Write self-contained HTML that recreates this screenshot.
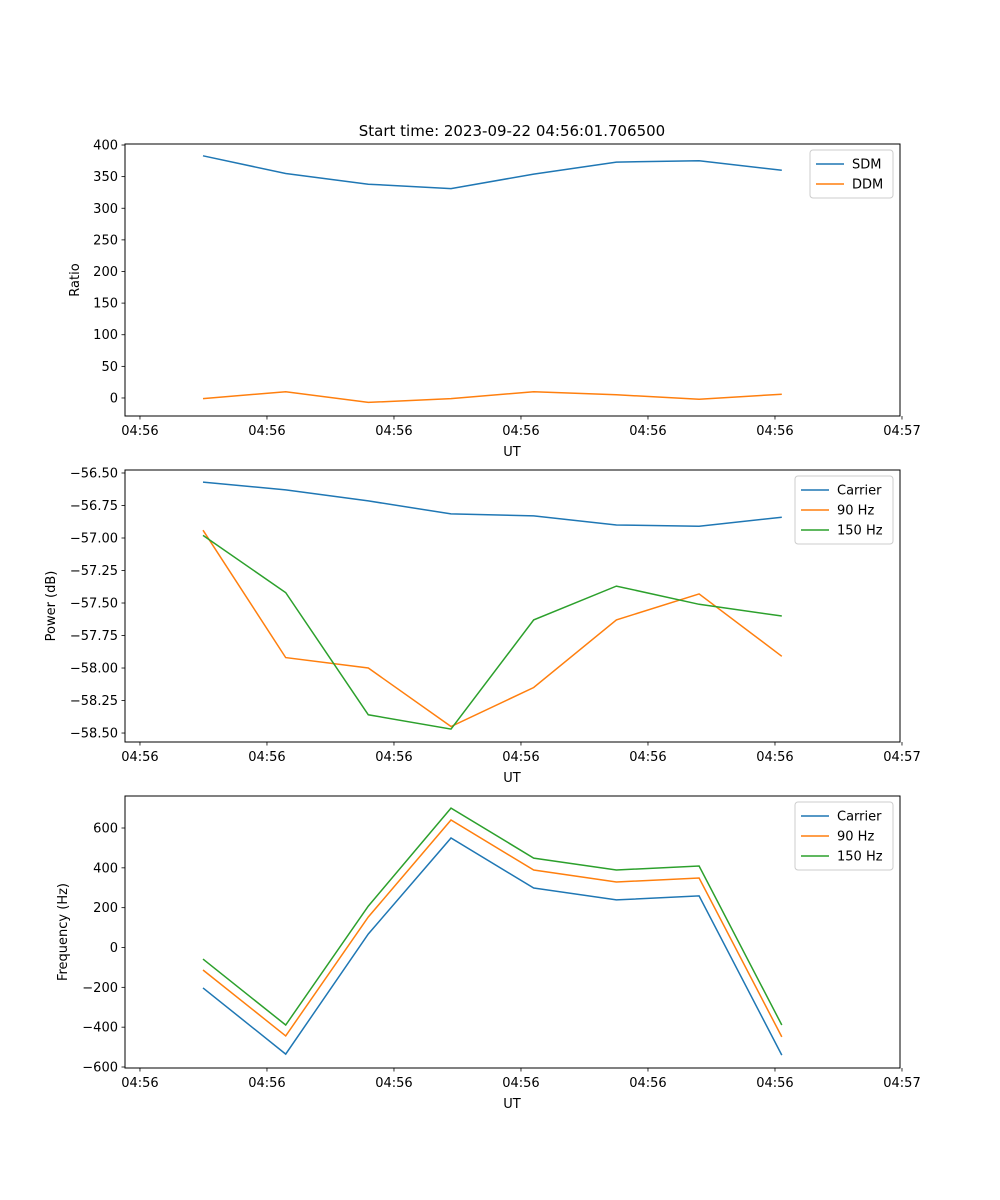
<!DOCTYPE html>
<html><head><meta charset="utf-8">
<style>
body{margin:0;background:#fff;}
svg{display:block;font-family:"DejaVu Sans","Liberation Sans",sans-serif;}
</style></head>
<body>
<svg id="fig" width="1000" height="1200" viewBox="0 0 1000 1200" xmlns="http://www.w3.org/2000/svg">
<rect width="1000" height="1200" fill="#fff"/>
<text x="512" y="136" font-size="15" text-anchor="middle">Start time: 2023-09-22 04:56:01.706500</text>
</svg>
<script>
const xIndex = [0,1,2,3,4,5,6,7];
const xTickLabels = ["04:56","04:56","04:56","04:56","04:56","04:56","04:57"];
const sdm = [383,355,338,331,354,373,375,360];
const ddm = [-1,10,-7,-1,10,5,-2,6];
const powCarrier = [-56.57,-56.63,-56.715,-56.815,-56.83,-56.90,-56.91,-56.84];
const pow90 = [-56.94,-57.92,-58.00,-58.45,-58.15,-57.63,-57.43,-57.91];
const pow150 = [-56.98,-57.42,-58.36,-58.47,-57.63,-57.37,-57.51,-57.60];
const freqCarrier = [-203,-535,68,550,299,239,259,-540];
const freq90 = [-113,-444,153,640,389,329,349,-449];
const freq150 = [-58,-389,208,700,449,389,409,-389];
const ratioTicks = [0,50,100,150,200,250,300,350,400];
const ratioTickLabels = ["0","50","100","150","200","250","300","350","400"];
const powTicks = [-58.5,-58.25,-58,-57.75,-57.5,-57.25,-57,-56.75,-56.5];
const powTickLabels = ["−58.50","−58.25","−58.00","−57.75","−57.50","−57.25","−57.00","−56.75","−56.50"];
const freqTicks = [-600,-400,-200,0,200,400,600];
const freqTickLabels = ["−600","−400","−200","0","200","400","600"];
const ratioRange = [-28.5,401.6];
const powRange = [-58.569,-56.477];
const freqRange = [-605,760.7];

const NS="http://www.w3.org/2000/svg";
const svg=document.getElementById('fig');
const colors=["#1f77b4","#ff7f0e","#2ca02c"];
const L=125,R=900;
const xlim=[-0.943,8.43];
function xs(v){return L+(v-xlim[0])/(xlim[1]-xlim[0])*(R-L);}
const xTickPos=[]; for(let i=0;i<7;i++) xTickPos.push(-0.762+1.536*i);
function mk(tag,attrs,parent){const e=document.createElementNS(NS,tag);for(const k in attrs)e.setAttribute(k,attrs[k]);(parent||svg).appendChild(e);return e;}

function panel(name,top,bottom,yr,ticks,tickLabels,ylabel,series,labels,legendW,ylabelX){
  const g=mk('g',{});
  
  
  const ys=v=>bottom-(v-yr[0])/(yr[1]-yr[0])*(bottom-top);
  series.forEach((s,si)=>{
    const p=mk('polyline',{points:s.map((v,i)=>xs(xIndex[i]).toFixed(1)+','+ys(v).toFixed(1)).join(' '),fill:'none',stroke:colors[si],'stroke-width':1.5},g);
    
    
  });
  const fr=mk('rect',{x:L,y:top,width:R-L,height:bottom-top,fill:'none',stroke:'#000','stroke-width':1},g);
  
  
  ticks.forEach((t,i)=>{
    const y=ys(t);
    mk('line',{x1:L-3.5,x2:L,y1:y,y2:y,stroke:'#000','stroke-width':0.8},g);
    const tx=mk('text',{x:L-7,y:y+4.5,'font-size':13,'text-anchor':'end'},g);
    tx.textContent=tickLabels[i];
    
    
  });
  xTickPos.forEach((t,i)=>{
    const x=xs(t);
    mk('line',{x1:x,x2:x,y1:bottom,y2:bottom+3.5,stroke:'#000','stroke-width':0.8},g);
    const tx=mk('text',{x:x,y:bottom+19,'font-size':13,'text-anchor':'middle'},g);
    tx.textContent=xTickLabels[i];
    
    
  });
  const xl=mk('text',{x:512,y:bottom+40,'font-size':13,'text-anchor':'middle'},g);
  xl.textContent='UT';
  
  
  const cy=(top+bottom)/2;
  const yl=mk('text',{x:ylabelX,y:cy,'font-size':13,'text-anchor':'middle',transform:`rotate(-90 ${ylabelX} ${cy})`},g);
  yl.textContent=ylabel;
  
  
  const lx=R-7-legendW, ly=top+6, lh=8+labels.length*20;
  const lg=mk('g',{},g);
  
  
  mk('rect',{x:lx,y:ly,width:legendW,height:lh,rx:3,fill:'#fff','fill-opacity':0.8,stroke:'#ccc','stroke-width':1},lg);
  labels.forEach((lb,i)=>{
    const yy=ly+14+i*20;
    mk('line',{x1:lx+6,x2:lx+34,y1:yy,y2:yy,stroke:colors[i],'stroke-width':1.5},lg);
    const t=mk('text',{x:lx+42,y:yy+4.5,'font-size':13},lg);
    t.textContent=lb;
    
    
  });
}
panel('ratio',144,416,ratioRange,ratioTicks,ratioTickLabels,'Ratio',[sdm,ddm],['SDM','DDM'],83,79);
panel('power',470,742,powRange,powTicks,powTickLabels,'Power (dB)',[powCarrier,pow90,pow150],['Carrier','90 Hz','150 Hz'],98,55);
panel('frequency',796,1068,freqRange,freqTicks,freqTickLabels,'Frequency (Hz)',[freqCarrier,freq90,freq150],['Carrier','90 Hz','150 Hz'],98,67);
</script>
</body></html>
